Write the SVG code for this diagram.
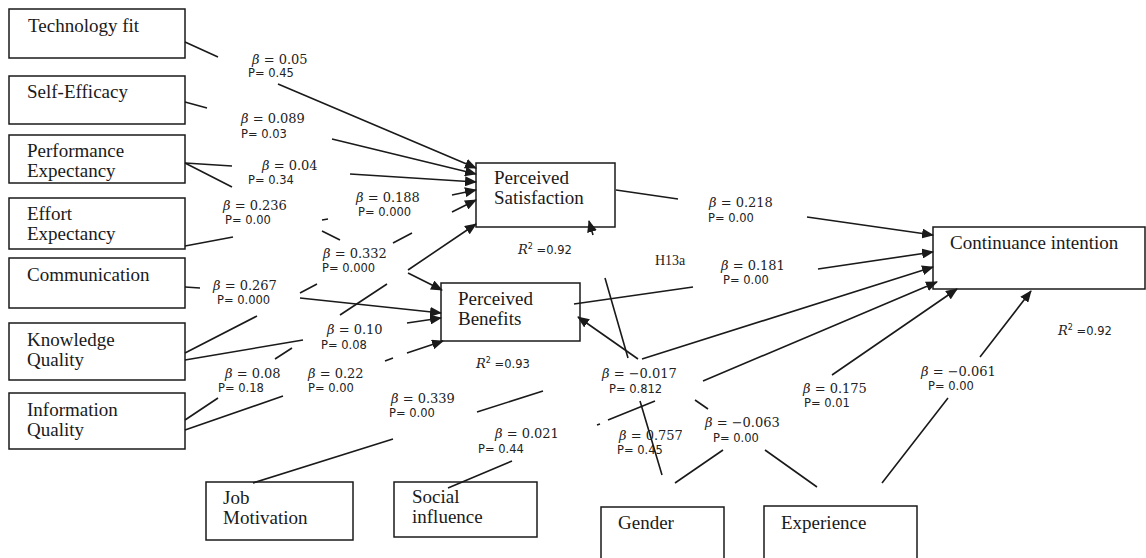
<svg xmlns="http://www.w3.org/2000/svg" width="1146" height="558" viewBox="0 0 1146 558">
<style>
.box{fill:#fff;stroke:#1a1a1a;stroke-width:1.5}
.nt{font-family:"Liberation Serif","Times New Roman",serif;font-size:19px;fill:#1a1a1a}
.b{font-family:"DejaVu Serif",serif;font-size:13px;fill:#222}
.g{font-style:italic}
.p{font-family:"DejaVu Sans",sans-serif;font-size:11.5px;fill:#222}
.h{font-family:"Liberation Serif",serif;font-size:14px;fill:#222}
.c{fill:none;stroke:#1a1a1a;stroke-width:1.6}
</style>
<defs>
<marker id="ah" markerUnits="userSpaceOnUse" markerWidth="12" markerHeight="10" refX="11" refY="5" orient="auto">
<path d="M0,0 L12,5 L0,10 z" fill="#1a1a1a"/>
</marker>
<clipPath id="clip757"><rect x="600" y="420" width="82" height="40"/></clipPath>
</defs>
<rect width="1146" height="558" fill="#fff"/>

<g id="technology-fit"><rect class="box" x="9" y="9" width="176" height="49"/><text class="nt" x="28" y="32">Technology fit</text></g>
<g id="self-efficacy"><rect class="box" x="9" y="76" width="176" height="48"/><text class="nt" x="27" y="98">Self-Efficacy</text></g>
<g id="performance-expectancy"><rect class="box" x="9" y="135" width="176" height="48"/><text class="nt" x="27" y="157">Performance</text><text class="nt" x="27" y="177">Expectancy</text></g>
<g id="effort-expectancy"><rect class="box" x="9" y="198" width="176" height="51"/><text class="nt" x="27" y="220">Effort</text><text class="nt" x="27" y="240">Expectancy</text></g>
<g id="communication"><rect class="box" x="9" y="258" width="176" height="50"/><text class="nt" x="27" y="281">Communication</text></g>
<g id="knowledge-quality"><rect class="box" x="9" y="323" width="176" height="57"/><text class="nt" x="27" y="346">Knowledge</text><text class="nt" x="27" y="366">Quality</text></g>
<g id="information-quality"><rect class="box" x="9" y="393" width="176" height="56"/><text class="nt" x="27" y="416">Information</text><text class="nt" x="27" y="436">Quality</text></g>
<g id="perceived-satisfaction"><rect class="box" x="476" y="163" width="139" height="64"/><text class="nt" x="494" y="184">Perceived</text><text class="nt" x="494" y="204">Satisfaction</text></g>
<g id="perceived-benefits"><rect class="box" x="441" y="283" width="139" height="58"/><text class="nt" x="458" y="305">Perceived</text><text class="nt" x="458" y="325">Benefits</text></g>
<g id="continuance-intention"><rect class="box" x="933" y="227" width="212" height="62"/><text class="nt" x="950" y="249">Continuance intention</text></g>
<g id="job-motivation"><rect class="box" x="206" y="482" width="147" height="58"/><text class="nt" x="223" y="504">Job</text><text class="nt" x="223" y="524">Motivation</text></g>
<g id="social-influence"><rect class="box" x="394" y="482" width="143" height="55"/><text class="nt" x="412" y="503">Social</text><text class="nt" x="412" y="523">influence</text></g>
<g id="gender"><rect class="box" x="601" y="507" width="123" height="70"/><text class="nt" x="618" y="529">Gender</text></g>
<g id="experience"><rect class="box" x="764" y="506" width="153" height="70"/><text class="nt" x="781" y="529">Experience</text></g>

<g id="labels">
<text class="b" x="252" y="64"><tspan class="g">β</tspan> = 0.05</text><text class="p" x="248" y="77">P= 0.45</text>
<text class="b" x="241" y="123"><tspan class="g">β</tspan> = 0.089</text><text class="p" x="241" y="138">P= 0.03</text>
<text class="b" x="262" y="170"><tspan class="g">β</tspan> = 0.04</text><text class="p" x="248" y="184">P= 0.34</text>
<text class="b" x="223" y="210"><tspan class="g">β</tspan> = 0.236</text><text class="p" x="225" y="224">P= 0.00</text>
<text class="b" x="356" y="202"><tspan class="g">β</tspan> = 0.188</text><text class="p" x="358" y="216">P= 0.000</text>
<text class="b" x="323" y="258"><tspan class="g">β</tspan> = 0.332</text><text class="p" x="322" y="272">P= 0.000</text>
<text class="b" x="213" y="290"><tspan class="g">β</tspan> = 0.267</text><text class="p" x="217" y="304">P= 0.000</text>
<text class="b" x="327" y="334"><tspan class="g">β</tspan> = 0.10</text><text class="p" x="321" y="349">P= 0.08</text>
<text class="b" x="225" y="378"><tspan class="g">β</tspan> = 0.08</text><text class="p" x="218" y="392">P= 0.18</text>
<text class="b" x="308" y="378"><tspan class="g">β</tspan> = 0.22</text><text class="p" x="308" y="392">P= 0.00</text>
<text class="b" x="391" y="403"><tspan class="g">β</tspan> = 0.339</text><text class="p" x="389" y="417">P= 0.00</text>
<text class="b" x="495" y="438"><tspan class="g">β</tspan> = 0.021</text><text class="p" x="478" y="453">P= 0.44</text>
<text class="b" x="709" y="207"><tspan class="g">β</tspan> = 0.218</text><text class="p" x="708" y="222">P= 0.00</text>
<text class="b" x="721" y="270"><tspan class="g">β</tspan> = 0.181</text><text class="p" x="723" y="284">P= 0.00</text>
<text class="b" x="803" y="393"><tspan class="g">β</tspan> = 0.175</text><text class="p" x="804" y="407">P= 0.01</text>
<text class="b" x="921" y="376"><tspan class="g">β</tspan> = −0.061</text><text class="p" x="928" y="390">P= 0.00</text>
<text class="b" x="602" y="378"><tspan class="g">β</tspan> = −0.017</text><text class="p" x="609" y="393">P= 0.812</text>
<text class="b" x="619" y="440" clip-path="url(#clip757)"><tspan class="g">β</tspan> = 0.757</text><text class="p" x="617" y="454">P= 0.45</text>
<text class="b" x="705" y="427"><tspan class="g">β</tspan> = −0.063</text><text class="p" x="713" y="442">P= 0.00</text>
<text class="p" x="518" y="254"><tspan class="b g">R</tspan><tspan dy="-5" font-size="8">2</tspan><tspan dy="5"> =0.92</tspan></text>
<text class="p" x="476" y="368"><tspan class="b g">R</tspan><tspan dy="-5" font-size="8">2</tspan><tspan dy="5"> =0.93</tspan></text>
<text class="p" x="1058" y="335"><tspan class="b g">R</tspan><tspan dy="-5" font-size="8">2</tspan><tspan dy="5"> =0.92</tspan></text>
<text class="h" x="655" y="265">H13a</text>
</g>

<g id="connectors" class="c" marker-end="url(#ah)">
<path d="M185,42 L218,57 M278,84 L476,168"/>
<path d="M185,102 L207,108 M332,139 L476,174"/>
<path d="M185,163 L232,166 M350,174 L476,182"/>
<path d="M185,163 L232,187 M322,231 L340,240 M408,273 L442,290"/>
<path d="M185,246 L233,237 M322,220 L328,219 M452,195 L476,190"/>
<path d="M185,353 L257,316 M300,293 L317,284 M393,243 L412,233 M452,212 L476,200"/>
<path d="M185,420 L218,398 M275,359 L292,348 M340,315 L387,284 M408,270 L476,224"/>
<path d="M185,287 L200,288 M300,298 L441,313"/>
<path d="M185,360 L303,340 M407,323 L441,318"/>
<path d="M185,430 L283,396 M385,361 L393,358 M407,353 L443,341"/>
<path d="M616,190 L678,199 M807,217 L933,235"/>
<path d="M574,304 L693,287 M818,269 L933,252"/>
<path d="M253,483 L393,439 M477,412 L543,391 M642,359 L933,267"/>
<path d="M448,488 L512,461 M597,425 L600,424 M608,420 L655,401 M703,381 L937,282"/>
<path d="M675,483 L723,450 M832,375 L957,289"/>
<path d="M882,483 L948,398 M980,357 L1031,291"/>
<path d="M817,487 L765,450 M708,409 L695,400 M638,359 L578,317"/>
<path d="M662,475 L640,401 M628,358 L605,278 M593,235 L589,221"/>
</g>
</svg>
